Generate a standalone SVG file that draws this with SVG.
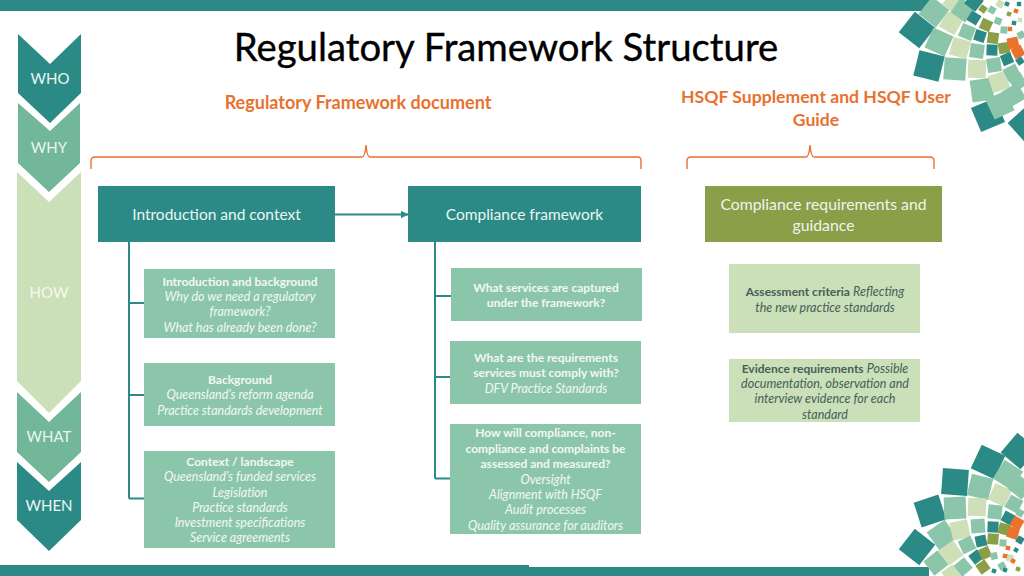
<svg xmlns="http://www.w3.org/2000/svg" width="1024" height="576" viewBox="0 0 1024 576">
<style>
text{font-family:"Lato","Open Sans","Liberation Sans",sans-serif;text-anchor:middle}
.t{font-size:38.300px;fill:#000;stroke:#000;stroke-width:.35}
.o{font-size:17.600px;font-weight:700;fill:#E9712F}
.c{font-size:15px;fill:#EAF6F0}
.h{font-size:15.500px;fill:#EAF6F0}
.s{font-size:12.500px;fill:#F2F8F2}
.b{font-weight:700;font-size:12px}
.i{font-style:italic}
.d{fill:#45605A}
.dark{fill:#2C8A86}.mid{fill:#8CC6AA}.cream{fill:#CFE0B8}.ol{fill:#8A9F47}.or{fill:#EA722D}
.box{fill:#2C8A86}.sub{fill:#8CC6AA}.crm{fill:#CBDFB9}
.conn{fill:none;stroke:#2C8A86;stroke-width:2}
.br{fill:none;stroke:#E9712F;stroke-width:1.400}
.m rect{stroke:#fff;stroke-width:1}
</style>
<defs>
<rect id="t25" x="-13" y="-13" width="26" height="26"/>
<rect id="t21" x="-11" y="-11" width="22" height="22"/>
<rect id="t17" x="-9" y="-9" width="18" height="18"/>
<rect id="t13" x="-7" y="-7" width="14" height="14"/>
<rect id="t10" x="-5.500" y="-5.500" width="11" height="11"/>
<rect id="t7" x="-3.500" y="-3.500" width="7" height="7"/>
<rect id="t4" x="-2.200" y="-2.200" width="4.400" height="4.400"/>
<marker id="arr" viewBox="0 0 8 8" refX="7.500" refY="4" markerWidth="8" markerHeight="8" markerUnits="userSpaceOnUse" orient="auto"><path d="M0 0L8 4L0 8z" fill="#2C8A86"/></marker>
</defs>
<rect x="0" y="0" width="930" height="11" fill="#2C8A86"/>
<rect x="0" y="565" width="529" height="11" fill="#2C8A86"/>
<rect x="529" y="567" width="400" height="9" fill="#2C8A86"/>

<g id="mosaic-top" class="m">
<use href="#t25" class="dark" transform="translate(917 30) rotate(38)"/>
<use href="#t25" class="dark" transform="translate(929 66) rotate(14)"/>
<use href="#t25" class="dark" transform="translate(988 115) rotate(-23)"/>
<use href="#t25" class="dark" transform="translate(1026 124) rotate(-42)"/>
<use href="#t21" class="mid" transform="translate(934 12) rotate(38)"/>
<use href="#t21" class="mid" transform="translate(939 42) rotate(24)"/>
<use href="#t21" class="mid" transform="translate(955 69) rotate(4)"/>
<use href="#t21" class="mid" transform="translate(982 90) rotate(-8)"/>
<use href="#t21" class="mid" transform="translate(1000 105) rotate(-25)"/>
<use href="#t17" class="cream" transform="translate(951 23) rotate(30)"/>
<use href="#t17" class="cream" transform="translate(960 48) rotate(16)"/>
<use href="#t17" class="cream" transform="translate(977 69) rotate(2)"/>
<use href="#t17" class="cream" transform="translate(999 82) rotate(-18)"/>
<use href="#t17" class="mid" transform="translate(1014 95) rotate(-30)"/>
<use href="#t13" class="cream" transform="translate(952 3) rotate(40)"/>
<use href="#t17" class="mid" transform="translate(963 10) rotate(35)"/>
<use href="#t13" class="mid" transform="translate(967 32) rotate(22)"/>
<use href="#t13" class="mid" transform="translate(977 51) rotate(8)"/>
<use href="#t13" class="mid" transform="translate(994 65) rotate(-8)"/>
<use href="#t13" class="mid" transform="translate(1012 73) rotate(-28)"/>
<use href="#t10" class="dark" transform="translate(974 18) rotate(32)"/>
<use href="#t10" class="dark" transform="translate(980 36) rotate(18)"/>
<use href="#t10" class="dark" transform="translate(992 50) rotate(2)"/>
<use href="#t10" class="dark" transform="translate(1007 59) rotate(-22)"/>
<use href="#t13" class="dark" transform="translate(974 2) rotate(38)"/>
<use href="#t7" class="ol" transform="translate(983 9) rotate(35)"/>
<use href="#t10" class="ol" transform="translate(986 25) rotate(24)"/>
<use href="#t10" class="ol" transform="translate(993 38) rotate(8)"/>
<use href="#t10" class="ol" transform="translate(1004 48) rotate(-10)"/>
<use href="#t10" class="or" transform="translate(1013 43) rotate(-12)"/>
<use href="#t10" class="or" transform="translate(1018 52) rotate(-28)"/>
<use href="#t7" class="mid" transform="translate(992 10) rotate(30)"/>
<use href="#t7" class="mid" transform="translate(998 21) rotate(20)"/>
<use href="#t7" class="mid" transform="translate(1004 30) rotate(5)"/>
<use href="#t7" class="cream" transform="translate(1000 4) rotate(30)"/>
<use href="#t7" class="mid" transform="translate(1021 35) rotate(-25)"/>
<use href="#t7" class="dark" transform="translate(1020 61) rotate(-35)"/>
<use href="#t4" class="or" transform="translate(1010 29)"/>
<use href="#t4" class="or" transform="translate(1016 11) rotate(20)"/>
<use href="#t4" class="dark" transform="translate(1014 23) rotate(10)"/>
<use href="#t4" class="ol" transform="translate(1009 14) rotate(20)"/>
<use href="#t4" class="dark" transform="translate(1007 4) rotate(20)"/>
<use href="#t4" class="cream" transform="translate(1020 20) rotate(10)"/>
<use href="#t4" class="dark" transform="translate(1019 4)"/>
<use href="#t13" class="mid" transform="translate(1018 82) rotate(-32)"/>
</g>

<g id="mosaic-bottom" class="m">
<use href="#t25" class="dark" transform="translate(917 547) rotate(38)"/>
<use href="#t25" class="dark" transform="translate(930 511) rotate(-18)"/>
<use href="#t25" class="dark" transform="translate(955 482) rotate(4)"/>
<use href="#t25" class="dark" transform="translate(988 462) rotate(25)"/>
<use href="#t25" class="dark" transform="translate(1019 451) rotate(40)"/>
<use href="#t21" class="mid" transform="translate(942 535) rotate(-35)"/>
<use href="#t21" class="mid" transform="translate(955 508) rotate(-2)"/>
<use href="#t21" class="mid" transform="translate(980 487) rotate(14)"/>
<use href="#t21" class="mid" transform="translate(1008 475) rotate(32)"/>
<use href="#t17" class="mid" transform="translate(936 563) rotate(-38)"/>
<use href="#t17" class="cream" transform="translate(951 553) rotate(-35)"/>
<use href="#t17" class="cream" transform="translate(960 530) rotate(-12)"/>
<use href="#t17" class="cream" transform="translate(977 507) rotate(2)"/>
<use href="#t17" class="cream" transform="translate(1000 495) rotate(24)"/>
<use href="#t17" class="mid" transform="translate(1020 487) rotate(38)"/>
<use href="#t13" class="mid" transform="translate(967 545) rotate(-25)"/>
<use href="#t13" class="mid" transform="translate(978 526) rotate(-4)"/>
<use href="#t13" class="mid" transform="translate(995 512) rotate(6)"/>
<use href="#t13" class="mid" transform="translate(1014 504) rotate(28)"/>
<use href="#t13" class="mid" transform="translate(963 567) rotate(-40)"/>
<use href="#t13" class="cream" transform="translate(951 574) rotate(-35)"/>
<use href="#t10" class="dark" transform="translate(976 557) rotate(-38)"/>
<use href="#t10" class="dark" transform="translate(981 541) rotate(-12)"/>
<use href="#t10" class="dark" transform="translate(993 527) rotate(2)"/>
<use href="#t10" class="dark" transform="translate(1008 518) rotate(28)"/>
<use href="#t10" class="ol" transform="translate(985 553) rotate(-25)"/>
<use href="#t10" class="ol" transform="translate(993 539) rotate(4)"/>
<use href="#t10" class="ol" transform="translate(1004 529) rotate(14)"/>
<use href="#t10" class="ol" transform="translate(983 567) rotate(-35)"/>
<use href="#t10" class="or" transform="translate(1017 523) rotate(30)"/>
<use href="#t10" class="or" transform="translate(1013 533) rotate(18)"/>
<use href="#t7" class="mid" transform="translate(1003 543) rotate(5)"/>
<use href="#t7" class="mid" transform="translate(994 556) rotate(-15)"/>
<use href="#t7" class="mid" transform="translate(1002 566) rotate(-30)"/>
<use href="#t7" class="mid" transform="translate(1020 513) rotate(30)"/>
<use href="#t7" class="dark" transform="translate(1020 540) rotate(30)"/>
<use href="#t7" class="cream" transform="translate(1010 558) rotate(10)"/>
<use href="#t4" class="or" transform="translate(1008 548) rotate(10)"/>
<use href="#t4" class="or" transform="translate(1013 561) rotate(25)"/>
<use href="#t4" class="or" transform="translate(1005 556) rotate(10)"/>
<use href="#t4" class="dark" transform="translate(1016 550) rotate(30)"/>
<use href="#t4" class="dark" transform="translate(1005 570) rotate(20)"/>
<use href="#t4" class="ol" transform="translate(1018 569) rotate(20)"/>
<use href="#t4" class="dark" transform="translate(994 571) rotate(20)"/>
</g>

<g id="title"><text class="t" x="506" y="60.500">Regulatory Framework Structure</text></g>
<text class="o" x="358" y="109" style="font-size:18px">Regulatory Framework document</text>
<text class="o" x="816" y="102.500">HSQF Supplement and HSQF User</text>
<text class="o" x="816" y="125.500">Guide</text>

<g id="connectors">
<path class="br" d="M91 169V161Q91 157 95 157H362Q365 157 366 145Q367 157 370 157H638Q641 157 641 161V169"/>
<path class="br" d="M687 169V161Q687 157 691 157H806Q809 157 810 145Q811 157 814 157H930Q934 157 934 161V169"/>
<path class="conn" d="M129 242V498.500M129 303H144M129 395H144M129 498.500H144"/>
<path class="conn" d="M435 242V478.500M435 296H451M435 377H450M435 478.500H450"/>
<path class="conn" d="M335 214.500H408" stroke-width="1.500" marker-end="url(#arr)"/>
</g>

<g id="who"><polygon fill="#2C8A86" points="18,34 50,64 81,34 81,93 50,123 18,93"/><text x="50" y="84" class="c">WHO</text></g>
<g id="why"><polygon fill="#72B79A" points="18,103 50,131 80,103 80,163 49,192 18,163"/><text x="49" y="152.500" class="c">WHY</text></g>
<g id="how"><polygon fill="#CBDFB8" points="17,172 49,202 81,172 81,381 49,413 17,381"/><text x="49" y="297.500" class="c" style="fill:#F4F9EE">HOW</text></g>
<g id="what"><polygon fill="#72B79A" points="17,392 49,422 81,392 81,452 49,482 17,452"/><text x="49" y="441.500" class="c">WHAT</text></g>
<g id="when"><polygon fill="#2C8A86" points="17,462 49,491 81,462 81,520 49,551 17,520"/><text x="49" y="510.500" class="c">WHEN</text></g>

<g id="intro"><rect class="box" x="98" y="186" width="237" height="56"/><text class="h" x="216.500" y="219.500">Introduction and context</text></g>
<g id="compliance"><rect class="box" x="408" y="186" width="233" height="56"/><text class="h" x="524.500" y="219.500">Compliance framework</text></g>
<g id="requirements"><rect x="705" y="186" width="237" height="56" fill="#8A9F47"/><text class="h" x="823.500" y="210" style="font-size:15.800px">Compliance requirements and</text><text class="h" x="823.500" y="230.500" style="font-size:15.800px">guidance</text></g>

<g id="a1"><rect class="sub" x="144" y="269" width="191" height="69"/>
<text class="s b" x="240" y="285.500">Introduction and background</text>
<text class="s i" x="240" y="301">Why do we need a regulatory</text>
<text class="s i" x="240" y="316">framework?</text>
<text class="s i" x="240" y="331.500">What has already been done?</text></g>
<g id="a2"><rect class="sub" x="144" y="363" width="191" height="63"/>
<text class="s b" x="240" y="384">Background</text>
<text class="s i" x="240" y="399">Queensland’s reform agenda</text>
<text class="s i" x="240" y="414.500">Practice standards development</text></g>
<g id="a3"><rect class="sub" x="144" y="451" width="191" height="97"/>
<text class="s b" x="240" y="466">Context / landscape</text>
<text class="s i" x="240" y="481">Queensland’s funded services</text>
<text class="s i" x="240" y="496.500">Legislation</text>
<text class="s i" x="240" y="511.500">Practice standards</text>
<text class="s i" x="240" y="527">Investment specifications</text>
<text class="s i" x="240" y="542">Service agreements</text></g>

<g id="b1"><rect class="sub" x="451" y="268" width="191" height="53"/>
<text class="s b" x="546" y="292">What services are captured</text>
<text class="s b" x="546" y="307">under the framework?</text></g>
<g id="b2"><rect class="sub" x="450" y="341" width="191" height="63"/>
<text class="s b" x="546" y="362">What are the requirements</text>
<text class="s b" x="546" y="377">services must comply with?</text>
<text class="s i" x="546" y="392.500">DFV Practice Standards</text></g>
<g id="b3"><rect class="sub" x="450" y="424" width="191" height="110"/>
<text class="s b" x="545.500" y="437">How will compliance, non-</text>
<text class="s b" x="545.500" y="452.500">compliance and complaints be</text>
<text class="s b" x="545.500" y="468">assessed and measured?</text>
<text class="s i" x="545.500" y="483.500">Oversight</text>
<text class="s i" x="545.500" y="499">Alignment with HSQF</text>
<text class="s i" x="545.500" y="514">Audit processes</text>
<text class="s i" x="545.500" y="529.500">Quality assurance for auditors</text></g>

<g id="c1"><rect class="crm" x="729" y="264" width="191" height="69"/>
<text class="s d" x="825" y="296"><tspan class="b">Assessment criteria</tspan> <tspan class="i">Reflecting</tspan></text>
<text class="s d i" x="825" y="311.500">the new practice standards</text></g>
<g id="c2"><rect class="crm" x="729" y="359" width="191" height="63"/>
<text class="s d" x="825" y="372.500"><tspan class="b">Evidence requirements</tspan> <tspan class="i">Possible</tspan></text>
<text class="s d i" x="825" y="388">documentation, observation and</text>
<text class="s d i" x="825" y="403">interview evidence for each</text>
<text class="s d i" x="825" y="418.500">standard</text></g>
</svg>
